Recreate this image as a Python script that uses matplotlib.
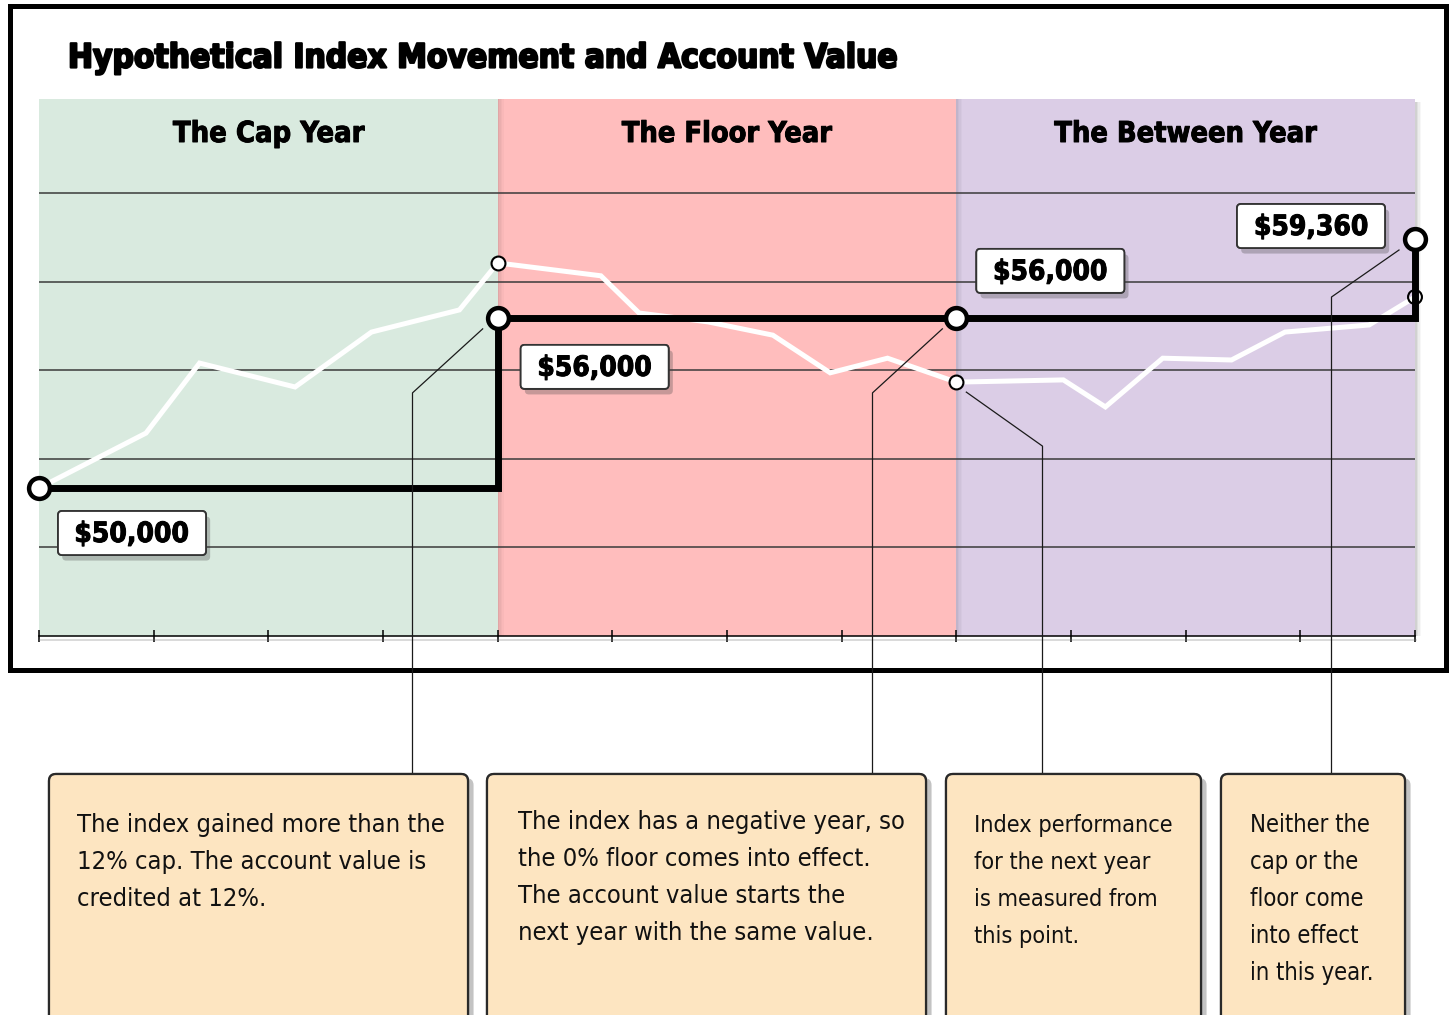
import matplotlib
matplotlib.use('Agg')
import matplotlib.pyplot as plt
import matplotlib.patheffects as pe
from matplotlib import font_manager
from matplotlib.patches import FancyBboxPatch, Rectangle
import numpy as np

W, H = 1452, 1015

# ---- data ----
years = ['The Cap Year', 'The Floor Year', 'The Between Year']
year_colors = ['#d9eadf', '#ffbdbd', '#dbcde6']
grid_levels = [20, 40, 60, 80, 100]
month_ticks = np.arange(0, 37, 3)

# hypothetical index path (months, chart level)
index_month = [0, 2.8, 4.2, 6.7, 8.7, 11.0, 12, 14.7, 15.7, 17.5, 19.2, 20.7,
               22.2, 24, 26.8, 27.9, 29.4, 31.2, 32.6, 34.8, 36]
index_level = [33.4, 45.8, 61.6, 56.2, 68.6, 73.6, 84.2, 81.3, 72.9, 70.9, 67.9,
               59.4, 62.7, 57.3, 57.8, 51.7, 62.7, 62.3, 68.6, 70.2, 76.5]

# account value at each year boundary
account_month = [0, 12, 24, 36]
account_level = [33.4, 71.8, 71.8, 89.6]
account_labels = ['$50,000', '$56,000', '$56,000', '$59,360']

notes = [
    'The index gained more than the\n12% cap. The account value is\ncredited at 12%.',
    'The index has a negative year, so\nthe 0% floor comes into effect.\nThe account value starts the\nnext year with the same value.',
    'Index performance\nfor the next year\nis measured from\nthis point.',
    'Neither the\ncap or the\nfloor come\ninto effect\nin this year.',
]


# ---- fonts: prefer a narrow face ----
fonts = font_manager.fontManager.ttflist
names = {f.name for f in fonts}
if 'Liberation Sans Narrow' in names:
    FONT = dict(family='Liberation Sans Narrow')
elif any(f.name == 'DejaVu Sans' and 'condensed' in str(f.stretch) for f in fonts):
    FONT = dict(family='DejaVu Sans', stretch='condensed')
else:
    FONT = dict(family='Roboto')

fig = plt.figure(figsize=(W / 100, H / 100), dpi=100)
fig.patch.set_facecolor('white')

# chart axes
ax = fig.add_axes([39 / W, 1 - 636 / H, (1415 - 39) / W, (636 - 99) / H])
ax.set_xlim(0, 36)
ax.set_ylim(0, 121.2)

for i, (name, col) in enumerate(zip(years, year_colors)):
    x0 = 12 * i
    ax.axvspan(x0, x0 + 12, color=col, lw=0, zorder=0)
    if i > 0:
        # soft shadow cast by the panel on the left
        for k, a in enumerate([0.12, 0.08, 0.05, 0.025]):
            ax.axvspan(x0 + k * 0.04, x0 + (k + 1) * 0.04, color='k', alpha=a, lw=0, zorder=0.1)

ax.set_yticks(grid_levels)
ax.yaxis.grid(True, color='#3a3a3a', lw=1.1)
ax.tick_params(axis='y', left=False, labelleft=False)
ax.set_xticks(month_ticks)
ax.tick_params(axis='x', direction='inout', length=9, width=1.1, color='black', labelbottom=False)
for s in ['top', 'left', 'right']:
    ax.spines[s].set_visible(False)
ax.spines['bottom'].set_linewidth(1.1)
ax.spines['bottom'].set_path_effects([pe.SimpleLineShadow(offset=(1, -3), shadow_color='#777', alpha=0.35),
                                      pe.Normal()])

# right edge shadow
for k, a in enumerate([0.18, 0.12, 0.07, 0.03]):
    ax.axvspan(36 + k * 0.04, 36 + (k + 1) * 0.04, ymax=0.995, color='k', alpha=a, lw=0, clip_on=False)

# index path
ax.plot(index_month, index_level, color='white', lw=3.6, solid_joinstyle='miter', zorder=3, clip_on=False)
# account value steps
ax.plot(account_month, account_level, drawstyle='steps-post', color='black', lw=5,
        solid_joinstyle='miter', zorder=4, clip_on=False)
ax.plot(account_month, account_level, 'o', ms=15, mfc='white', mec='black', mew=3.2, zorder=6, clip_on=False)

mark_idx = [index_month.index(m) for m in account_month[1:]]
mx = [index_month[j] for j in mark_idx]
my = [index_level[j] for j in mark_idx]
ax.scatter(mx[:2], my[:2], s=100, facecolor='white', edgecolor='black', lw=1.5, zorder=5, clip_on=False)
ax.scatter(mx[2:], my[2:], s=100, facecolor='none', edgecolor='black', lw=1.5, zorder=7, clip_on=False)

# overlay in pixel coordinates
ov = fig.add_axes([0, 0, 1, 1], zorder=3)
ov.set_xlim(0, W)
ov.set_ylim(H, 0)
ov.axis('off')
ov.patch.set_alpha(0)


def to_px(x, y):
    dx, dy = ax.transData.transform((x, y))
    return dx, H - dy


renderer = fig.canvas.get_renderer()


def fit(t, width):
    w = t.get_window_extent(renderer).width
    t.set_fontsize(t.get_fontsize() * width / w)
    return t.get_fontsize()


# outer frame
ov.add_patch(Rectangle((9.5, 6), 1436, 663.5, fill=False, ec='black', lw=3.6))

# title
t = ov.text(68, 58, 'Hypothetical Index Movement and Account Value', ha='left', va='center',
            fontsize=26, fontweight='bold', color='black',
            path_effects=[pe.withStroke(linewidth=1.6, foreground='black')], **FONT)
fit(t, 830)

# year headers
header_w = [186, 204, 255]
for i, name in enumerate(years):
    cx, _ = to_px(12 * i + 6, 0)
    t = ov.text(cx, 134, name, ha='center', va='center', fontsize=24, fontweight='bold',
                path_effects=[pe.withStroke(linewidth=0.7, foreground='black')], **FONT)
    fit(t, header_w[i] * 1.03)

# value labels
label_off = [(93, 45), (97, 49), (94, -47), (-104, -13)]
for (m, v), lab, (ox, oy) in zip(zip(account_month, account_level), account_labels, label_off):
    px, py = to_px(m, v)
    cx, cy = px + ox, py + oy
    box = FancyBboxPatch((cx - 74, cy - 22), 148, 44, boxstyle='round,pad=0,rounding_size=4',
                         fc='white', ec='#333333', lw=1.3, zorder=2)
    box.set_path_effects([pe.withSimplePatchShadow(offset=(3, -4), shadow_rgbFace='#444', alpha=0.3),
                          pe.Normal()])
    ov.add_patch(box)
    t = ov.text(cx, cy + 1, lab, ha='center', va='center', fontsize=22, fontweight='bold', zorder=3,
                path_effects=[pe.withStroke(linewidth=0.7, foreground='black')], **FONT)
    fit(t, 114)

# note boxes
box_x = [(49, 468), (487, 926), (946, 1201), (1221, 1405)]
text_x = [77, 518, 974, 1250]
text_base = [832, 829, 832, 832]
text_w = [361, 378, 195, 122]
line_pitch = 37
for note, (x0, x1), tx, ty, tw in zip(notes, box_x, text_x, text_base, text_w):
    box = FancyBboxPatch((x0, 774), x1 - x0, 270, boxstyle='round,pad=0,rounding_size=7',
                         fc='#fde5c1', ec='#2a2a2a', lw=1.6, zorder=2)
    box.set_path_effects([pe.withSimplePatchShadow(offset=(4, -3), shadow_rgbFace='#555', alpha=0.35),
                          pe.Normal()])
    ov.add_patch(box)
    probe = ov.text(tx, ty, note, fontsize=20, **FONT)
    size = fit(probe, tw * 1.02)
    probe.remove()
    for j, line in enumerate(note.split('\n')):
        ov.text(tx, ty + j * line_pitch, line, ha='left', va='baseline', fontsize=size,
                color='#111', zorder=3, **FONT)

# leader lines: target point, end offset, knee offset (pixels)
leaders = [
    ((account_month[1], account_level[1]), (-15, 11), (-86, 75)),
    ((account_month[2], account_level[2]), (-14, 11), (-84, 75)),
    ((index_month[mark_idx[1]], index_level[mark_idx[1]]), (10, 10), (86, 64)),
    ((account_month[3], account_level[3]), (-16, 11), (-84, 58)),
]
for (m, v), (ex, ey), (kx, ky) in leaders:
    px, py = to_px(m, v)
    kxp = round(px + kx) + 0.5
    ov.plot([px + ex, kxp, kxp], [py + ey, py + ky, 774], color='#1a1a1a', lw=0.9, zorder=1)

fig.savefig('out.png', dpi=100)
